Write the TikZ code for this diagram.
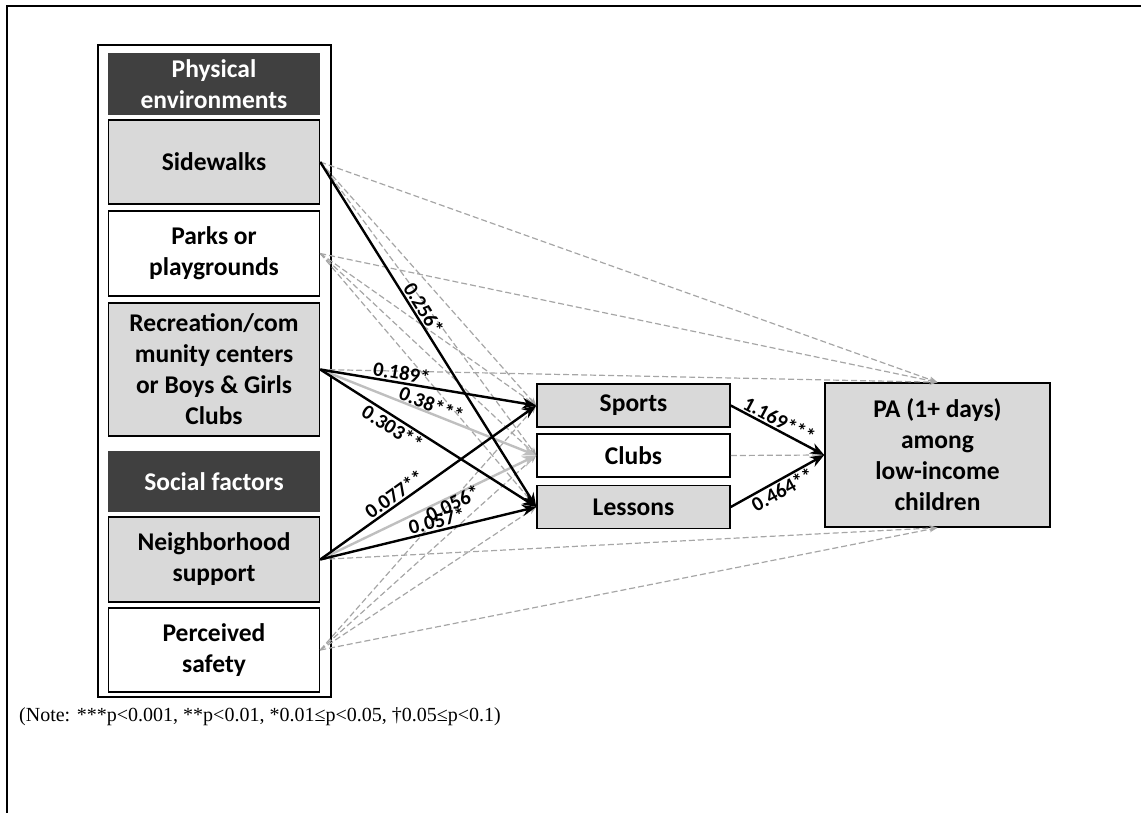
\documentclass[tikz,border=0pt]{standalone}
\usepackage{fontspec}
\setmainfont{Carlito}
\newfontfamily\notefont{Liberation Serif}
\usetikzlibrary{arrows.meta}
\definecolor{hdrgray}{HTML}{404040}
\definecolor{boxgray}{HTML}{D9D9D9}
\definecolor{dashgray}{HTML}{A6A6A6}
\definecolor{pathgray}{HTML}{BFBFBF}

\begin{document}
\begin{tikzpicture}[x=1pt,y=-1pt,
  boxfont/.style={font=\fontsize{25.5}{31}\selectfont\bfseries},
  hdr/.style={boxfont, fill=hdrgray, text=white, align=center, inner sep=0pt,
    minimum width=212pt},
  var/.style={boxfont, draw=black, line width=1.5pt, fill=boxgray, align=center,
    inner sep=0pt},
  varw/.style={var, fill=white},
  dsh/.style={draw=dashgray, line width=1.2pt, dash pattern=on 6pt off 3pt,
    -{Stealth[length=8pt,width=6pt]}},
  sol/.style={draw=black, line width=2.4pt, -{Stealth[length=14pt,width=11pt]}},
  solg/.style={sol, draw=pathgray},
  lbl/.style={font=\fontsize{20.5}{23}\selectfont\bfseries, inner sep=1.5pt, sloped}
]
\useasboundingbox (0,0) rectangle (1141,813);

% page frame (top and left rules)
\draw[line width=2.2pt] (7,813) -- (7,6) -- (1141,6);

% outer frame of the predictor column
\draw[line width=1.8pt] (98,45) rectangle (331,697);

% predictor column
\node[hdr, minimum height=62pt] (hphys) at (214,84) {Physical\\environments};
\node[var, minimum width=211pt, minimum height=84pt] (side) at (214,162) {Sidewalks};
\node[varw, minimum width=211pt, minimum height=85pt] (parks) at (214,253.5) {Parks or\\playgrounds};
\node[var, minimum width=211pt, minimum height=133pt] (rec) at (214,369.5) {Recreation/com\\munity centers\\or Boys \& Girls\\Clubs};
\node[hdr, minimum height=61pt] (hsoc) at (214,481.5) {Social factors};
\node[var, minimum width=211pt, minimum height=85pt] (nbh) at (214,559.5) {Neighborhood\\support};
\node[varw, minimum width=211pt, minimum height=84pt] (safe) at (214,650) {Perceived\\safety};

% mediators
\node[var, minimum width=193pt, minimum height=43pt] (sports) at (633.5,405.5) {Sports};
\node[varw, minimum width=193pt, minimum height=43pt] (clubs) at (633.5,455.5) {Clubs};
\node[var, minimum width=193pt, minimum height=43pt] (lessons) at (633.5,507) {Lessons};

% outcome
\node[var, minimum width=225pt, minimum height=144pt] (pa) at (937.5,455) {PA (1+ days)\\among\\low-income\\children};

% non-significant paths
\foreach \s/\t in {side/sports, side/clubs, parks/sports, parks/clubs, parks/lessons,
                   safe/sports, safe/clubs, safe/lessons}
  \draw[dsh] (\s.east) -- (\t.west);
\foreach \s in {side, parks, rec}
  \draw[dsh] (\s.east) -- (pa.north);
\foreach \s in {nbh, safe}
  \draw[dsh] (\s.east) -- (pa.south);
\draw[dsh] (clubs.east) -- (pa.west);

% significant paths
\draw[solg] (rec.east) -- node[lbl, pos=0.5, above, inner sep=0pt] {0.38***} (clubs.west);
\draw[solg] (nbh.east) -- node[lbl, pos=0.6, below, inner sep=-2pt] {0.056*} (clubs.west);
\draw[sol] (side.east) -- node[lbl, pos=0.44, above] {0.256*} (lessons.west);
\draw[sol] (rec.east) -- node[lbl, pos=0.37, above] {0.189*} (sports.west);
\draw[sol] (rec.east) -- node[lbl, pos=0.36, below] {0.303**} (lessons.west);
\draw[sol] (nbh.east) -- node[lbl, pos=0.37, above] {0.077**} (sports.west);
\draw[sol] (nbh.east) -- node[lbl, pos=0.55, above] {0.057*} (lessons.west);
\draw[sol] (sports.east) -- node[lbl, pos=0.47, above] {1.169***} (pa.west);
\draw[sol] (lessons.east) -- node[lbl, pos=0.5, below] {0.464**} (pa.west);

% significance note
\node[anchor=west, inner sep=0pt, font=\notefont\fontsize{20}{24}\selectfont] (note) at (19,717)
  {(Note: ***p<0.001, **p<0.01, *0.01≤p<0.05, †0.05≤p<0.1)};
\end{tikzpicture}
\end{document}
